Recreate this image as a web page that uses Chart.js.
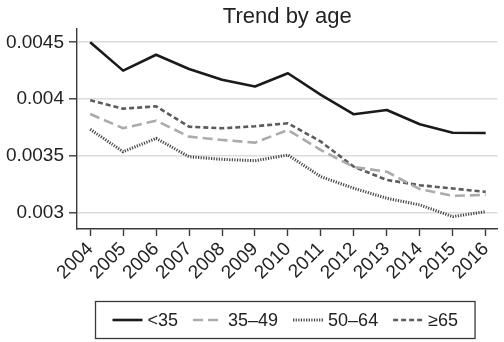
<!DOCTYPE html>
<html>
<head>
<meta charset="utf-8">
<script src="https://cdn.jsdelivr.net/npm/chart.js@4/dist/chart.umd.min.js"></script>
<style>
  html, body { margin: 0; padding: 0; background: #ffffff; }
  #wrap { width: 504px; height: 342px; }
</style>
</head>
<body>
<div id="wrap"><canvas id="c" width="504" height="342"></canvas></div>
<script>
// Yearly rate by age group
const years = [2004, 2005, 2006, 2007, 2008, 2009, 2010, 2011, 2012, 2013, 2014, 2015, 2016];
const under35   = [0.00450, 0.00425, 0.00439, 0.004265, 0.00417, 0.00411, 0.004227, 0.004036, 0.003865, 0.003903, 0.003777, 0.003703, 0.003700];
const age35to49 = [0.003868, 0.003742, 0.003809, 0.003668, 0.003639, 0.003615, 0.003727, 0.003550, 0.003400, 0.003359, 0.003205, 0.003146, 0.003155];
const age50to64 = [0.003733, 0.003535, 0.003653, 0.003491, 0.003468, 0.003456, 0.003506, 0.003315, 0.003213, 0.003125, 0.003066, 0.002963, 0.003007];
const age65plus = [0.003989, 0.003915, 0.003935, 0.003756, 0.003742, 0.003760, 0.003786, 0.003624, 0.003403, 0.003286, 0.003240, 0.003211, 0.003181];
const seriesNames = ['<35', '35–49', '50–64', '≥65'];
const yTicks = [0.003, 0.0035, 0.004, 0.0045];
const yTickLabels = ['0.003', '0.0035', '0.004', '0.0045'];

const FAMILY = '"Liberation Sans", Arial, Helvetica, sans-serif';
const INK = '#222222';
const AXIS = '#3a3a3a';

Chart.defaults.font.family = FAMILY;
Chart.defaults.font.size = 19;
Chart.defaults.color = INK;

const toPoints = vals => years.map((yr, i) => ({ x: yr, y: vals[i] }));

// Boxed legend drawn below the axis, one short line sample per series
const boxLegend = {
  id: 'boxLegend',
  afterDraw(chart, args, opts) {
    const ctx = chart.ctx;
    const area = chart.chartArea;
    ctx.save();
    ctx.font = opts.fontSize + 'px ' + FAMILY;
    const items = chart.data.datasets.map(ds => ({ ds, w: ctx.measureText(ds.label).width }));
    const inner = items.reduce((s, it) => s + opts.sample + opts.gap + it.w, 0) + opts.spacing * (items.length - 1);
    const boxW = inner + 2 * opts.pad;
    const cx = (area.left + area.right) / 2 + opts.shift;
    const left = Math.round(cx - boxW / 2) + 0.5;
    const top = opts.top + 0.5;
    ctx.strokeStyle = AXIS;
    ctx.lineWidth = 1.3;
    ctx.strokeRect(left, top, boxW, opts.height);
    let x = left + opts.pad;
    const y = top + opts.height / 2;
    items.forEach(it => {
      ctx.save();
      ctx.strokeStyle = it.ds.borderColor;
      ctx.lineWidth = it.ds.borderWidth;
      ctx.setLineDash(it.ds.borderDash || []);
      ctx.beginPath();
      ctx.moveTo(x, y);
      ctx.lineTo(x + opts.sample, y);
      ctx.stroke();
      ctx.restore();
      x += opts.sample + opts.gap;
      ctx.fillStyle = INK;
      ctx.textBaseline = 'middle';
      ctx.textAlign = 'left';
      ctx.fillText(it.ds.label, x, y + 1);
      x += it.w + opts.spacing;
    });
    ctx.restore();
  }
};

new Chart(document.getElementById('c'), {
  type: 'line',
  data: {
    datasets: [
      { label: seriesNames[0], data: toPoints(under35),   borderColor: '#1a1a1a', borderWidth: 2.6, borderDash: [] },
      { label: seriesNames[1], data: toPoints(age35to49), borderColor: '#ababab', borderWidth: 2.6, borderDash: [10, 5] },
      { label: seriesNames[2], data: toPoints(age50to64), borderColor: '#444444', borderWidth: 3,   borderDash: [1.2, 1.4] },
      { label: seriesNames[3], data: toPoints(age65plus), borderColor: '#5c5c5c', borderWidth: 2.6, borderDash: [5, 3] }
    ]
  },
  options: {
    responsive: false,
    animation: false,
    devicePixelRatio: 1,
    layout: { padding: { top: 0, right: 6, bottom: 0, left: 0 } },
    elements: {
      point: { radius: 0, hoverRadius: 0 },
      line: { tension: 0, borderCapStyle: 'butt', borderJoinStyle: 'round', fill: false }
    },
    plugins: {
      legend: { display: false },
      tooltip: { enabled: false },
      title: {
        display: true,
        text: 'Trend by age',
        fullSize: false,
        color: INK,
        font: { size: 22, weight: 'normal', lineHeight: 1 },
        padding: { top: 6, bottom: 1 }
      },
      boxLegend: { top: 301, height: 37, pad: 17, sample: 30, gap: 5, spacing: 15, fontSize: 18, shift: -3 }
    },
    scales: {
      x: {
        type: 'linear',
        min: 2003.6,
        max: 2016.36,
        afterBuildTicks: scale => { scale.ticks = years.map(v => ({ value: v })); },
        afterFit: scale => { scale.height = 113; },
        grid: { drawOnChartArea: false, drawTicks: true, tickLength: 7, tickColor: AXIS, tickWidth: 1.4 },
        border: { display: true, color: AXIS, width: 1.4 },
        ticks: {
          autoSkip: false,
          minRotation: 45,
          maxRotation: 45,
          padding: 2,
          color: INK,
          font: { size: 19 },
          callback: v => String(v)
        }
      },
      y: {
        type: 'linear',
        min: 0.002854,
        max: 0.004617,
        afterBuildTicks: scale => { scale.ticks = yTicks.map(v => ({ value: v })); },
        afterFit: scale => { scale.width = 77; },
        grid: { color: '#dcdcdc', lineWidth: 1.6, drawTicks: true, tickLength: 8, tickColor: AXIS, tickWidth: 1.4 },
        border: { display: true, color: AXIS, width: 1.4 },
        ticks: {
          padding: 5,
          color: INK,
          font: { size: 19 },
          callback: (v, i) => yTickLabels[i]
        }
      }
    }
  },
  plugins: [boxLegend]
});
</script>
</body>
</html>
